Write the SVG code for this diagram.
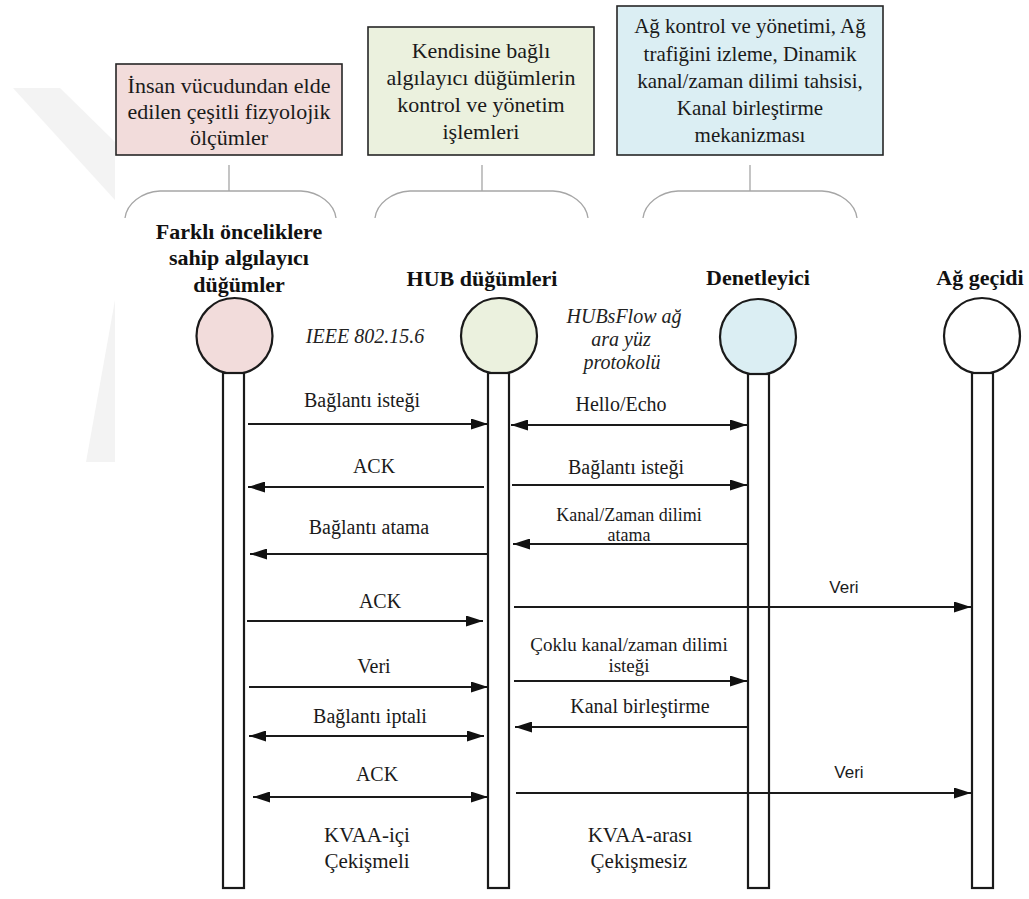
<svg xmlns="http://www.w3.org/2000/svg" width="1029" height="899" viewBox="0 0 1029 899">
  <defs>
    <style>
      .box { stroke: #262626; stroke-width: 1.6; }
      .serif { font-family: "Liberation Serif", Tinos, Times, "Nimbus Roman", FreeSerif, "DejaVu Serif", "Noto Serif", "Times New Roman", serif; }
      .boxtxt { font-size: 22px; fill: #1a1a1a; text-anchor: middle; }
      .brace { fill: none; stroke: #a6a6a6; stroke-width: 1.3; }
      .head { font-size: 22px; font-weight: bold; fill: #111; text-anchor: middle; }
      .proto { font-size: 20px; font-style: italic; fill: #222; text-anchor: middle; }
      .actor { stroke: #1a1a1a; stroke-width: 2.2; }
      .life { fill: #fff; stroke: #1a1a1a; stroke-width: 2.2; }
      .msg { stroke: #1a1a1a; stroke-width: 2; fill: none; }
      .lbl { font-size: 20px; fill: #1a1a1a; text-anchor: middle; }
      .lbl-s { font-size: 18px; fill: #1a1a1a; text-anchor: middle; }
      .lbl-sans { font-family: "Liberation Sans", Arial, sans-serif; font-size: 17px; fill: #1a1a1a; text-anchor: middle; }
      .note { font-size: 21px; fill: #1a1a1a; text-anchor: middle; }
    </style>
    <marker id="ah" markerUnits="userSpaceOnUse" markerWidth="17" markerHeight="11" refX="17" refY="5.5" orient="auto-start-reverse">
      <path d="M0,0 L17,5.5 L0,11 Z" fill="#111"/>
    </marker>
  </defs>

  <rect width="1029" height="899" fill="#fff"/>

  <!-- faint background mark on the left margin -->
  <g id="bg-mark" fill="#f3f3f3">
    <polygon points="13,88 60,88 115,142 115,200"/>
    <polygon points="115,300 115,462 86,462"/>
  </g>

  <!-- description boxes -->
  <g id="desc-sensor" class="serif">
    <rect class="box" x="116" y="64" width="226" height="91" fill="#f2dcdb"/>
    <text class="boxtxt" x="229" y="93">İnsan vücudundan elde</text>
    <text class="boxtxt" x="229" y="119">edilen çeşitli fizyolojik</text>
    <text class="boxtxt" x="229" y="145">ölçümler</text>
  </g>
  <g id="desc-hub" class="serif">
    <rect class="box" x="368" y="27" width="226" height="128" fill="#ebf1de"/>
    <text class="boxtxt" x="481" y="58">Kendisine bağlı</text>
    <text class="boxtxt" x="481" y="85">algılayıcı düğümlerin</text>
    <text class="boxtxt" x="481" y="112">kontrol ve yönetim</text>
    <text class="boxtxt" x="481" y="139">işlemleri</text>
  </g>
  <g id="desc-controller" class="serif">
    <rect class="box" x="617" y="6" width="266" height="149" fill="#dbeef3"/>
    <text class="boxtxt" x="750" y="33" style="font-size:21px">Ağ kontrol ve yönetimi, Ağ</text>
    <text class="boxtxt" x="750" y="61" style="font-size:21px">trafiğini izleme, Dinamik</text>
    <text class="boxtxt" x="750" y="88" style="font-size:21px">kanal/zaman dilimi tahsisi,</text>
    <text class="boxtxt" x="750" y="115" style="font-size:21px">Kanal birleştirme</text>
    <text class="boxtxt" x="750" y="142" style="font-size:21px">mekanizması</text>
  </g>

  <!-- braces linking boxes to actors -->
  <g id="braces">
    <path class="brace" d="M229,165 V191 M125,218 A38,30 0 0 1 160,191 H301 A38,30 0 0 1 336,218"/>
    <path class="brace" d="M482,165 V191 M375,218 A38,30 0 0 1 410,191 H553 A38,30 0 0 1 588,218"/>
    <path class="brace" d="M750,165 V191 M643,218 A38,30 0 0 1 678,191 H822 A38,30 0 0 1 857,218"/>
  </g>

  <!-- actors with lifelines -->
  <g id="actor-sensor" class="serif">
    <text class="head" x="239" y="239">Farklı önceliklere</text>
    <text class="head" x="239" y="265">sahip algılayıcı</text>
    <text class="head" x="239" y="292">düğümler</text>
    <circle class="actor" cx="234.5" cy="336" r="38" fill="#f2dcdb"/>
    <rect class="life" x="223" y="373" width="21" height="515"/>
  </g>
  <g id="actor-hub" class="serif">
    <text class="head" x="482" y="286">HUB düğümleri</text>
    <circle class="actor" cx="499" cy="336" r="38" fill="#ebf1de"/>
    <rect class="life" x="488" y="373" width="21" height="515"/>
  </g>
  <g id="actor-controller" class="serif">
    <text class="head" x="758" y="285">Denetleyici</text>
    <circle class="actor" cx="758" cy="337" r="38" fill="#dbeef3"/>
    <rect class="life" x="748" y="374" width="21" height="514"/>
  </g>
  <g id="actor-gateway" class="serif">
    <text class="head" x="980" y="285">Ağ geçidi</text>
    <circle class="actor" cx="982" cy="336" r="38" fill="#fff"/>
    <rect class="life" x="972" y="373" width="21" height="515"/>
  </g>

  <!-- protocol names -->
  <g id="protocols" class="serif">
    <text class="proto" x="365" y="343">IEEE 802.15.6</text>
    <text class="proto" x="624" y="323">HUBsFlow ağ</text>
    <text class="proto" x="621" y="346">ara yüz</text>
    <text class="proto" x="622" y="369">protokolü</text>
  </g>

  <!-- messages -->
  <g id="connectors">
    <line class="msg" x1="248" y1="424" x2="488" y2="424" marker-end="url(#ah)"/>
    <line class="msg" x1="511" y1="425" x2="747" y2="425" marker-start="url(#ah)" marker-end="url(#ah)"/>
    <line class="msg" x1="484" y1="487" x2="248" y2="487" marker-end="url(#ah)"/>
    <line class="msg" x1="512" y1="485" x2="747" y2="485" marker-end="url(#ah)"/>
    <line class="msg" x1="488" y1="554" x2="250" y2="554" marker-end="url(#ah)"/>
    <line class="msg" x1="747" y1="544" x2="513" y2="544" marker-end="url(#ah)"/>
    <line class="msg" x1="247" y1="621" x2="483" y2="621" marker-end="url(#ah)"/>
    <line class="msg" x1="514" y1="607" x2="971" y2="607" marker-end="url(#ah)"/>
    <line class="msg" x1="514" y1="681" x2="747" y2="681" marker-end="url(#ah)"/>
    <line class="msg" x1="249" y1="687" x2="488" y2="687" marker-end="url(#ah)"/>
    <line class="msg" x1="747" y1="727" x2="515" y2="727" marker-end="url(#ah)"/>
    <line class="msg" x1="249" y1="736" x2="484" y2="736" marker-start="url(#ah)" marker-end="url(#ah)"/>
    <line class="msg" x1="253" y1="797" x2="488" y2="797" marker-start="url(#ah)" marker-end="url(#ah)"/>
    <line class="msg" x1="516" y1="793" x2="971" y2="793" marker-end="url(#ah)"/>
  </g>

  <!-- message labels -->
  <g id="labels" class="serif">
    <text class="lbl" x="362" y="407">Bağlantı isteği</text>
    <text class="lbl" x="621" y="411">Hello/Echo</text>
    <text class="lbl" x="374" y="473">ACK</text>
    <text class="lbl" x="626" y="474">Bağlantı isteği</text>
    <text class="lbl" x="369" y="534">Bağlantı atama</text>
    <text class="lbl-s" x="629" y="521">Kanal/Zaman dilimi</text>
    <text class="lbl-s" x="629" y="541">atama</text>
    <text class="lbl" x="380" y="608">ACK</text>
    <text class="lbl-sans" x="844" y="593">Veri</text>
    <text class="lbl" x="629" y="651" style="font-size:19px">Çoklu kanal/zaman dilimi</text>
    <text class="lbl" x="629" y="672" style="font-size:19px">isteği</text>
    <text class="lbl" x="374" y="673">Veri</text>
    <text class="lbl" x="640" y="713">Kanal birleştirme</text>
    <text class="lbl" x="370" y="723">Bağlantı iptali</text>
    <text class="lbl" x="377" y="781">ACK</text>
    <text class="lbl-sans" x="849" y="778">Veri</text>
  </g>

  <!-- region notes -->
  <g id="notes" class="serif">
    <text class="note" x="367" y="842">KVAA-içi</text>
    <text class="note" x="367" y="868">Çekişmeli</text>
    <text class="note" x="640" y="842">KVAA-arası</text>
    <text class="note" x="639" y="868">Çekişmesiz</text>
  </g>
</svg>
